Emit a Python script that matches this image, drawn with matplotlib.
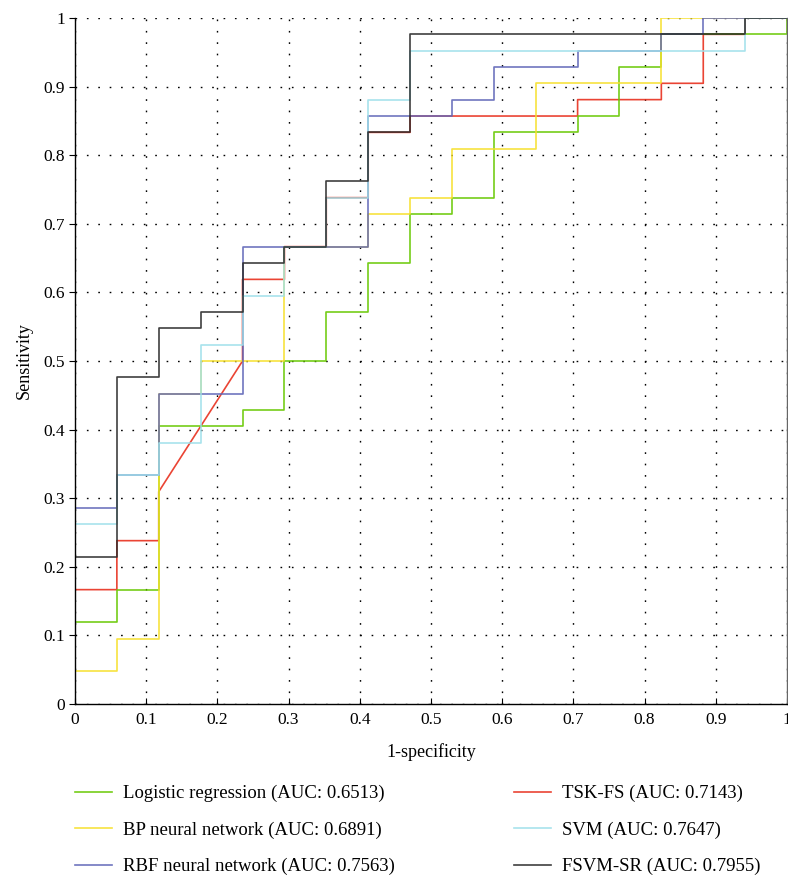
import numpy as np
import matplotlib
matplotlib.use('Agg')
import matplotlib.pyplot as plt

plt.rcParams['font.family'] = ['Liberation Serif', 'DejaVu Serif']

# ROC vertices (fpr, tpr)
lr_fpr = [0, 0, 0.0588, 0.0588, 0.1176, 0.1176, 0.2353, 0.2353, 0.2941, 0.2941, 0.3529, 0.3529, 0.4118, 0.4118,
          0.4706, 0.4706, 0.5294, 0.5294, 0.5882, 0.5882, 0.7059, 0.7059, 0.7647, 0.7647, 0.8235, 0.8235, 1, 1]
lr_tpr = [0, 0.119, 0.119, 0.1667, 0.1667, 0.4048, 0.4048, 0.4286, 0.4286, 0.5, 0.5, 0.5714, 0.5714, 0.6429,
          0.6429, 0.7143, 0.7143, 0.7381, 0.7381, 0.8333, 0.8333, 0.8571, 0.8571, 0.9286, 0.9286, 0.9762, 0.9762, 1]

bp_fpr = [0, 0, 0.0588, 0.0588, 0.1176, 0.1176, 0.1765, 0.1765, 0.2941, 0.2941, 0.4118, 0.4118, 0.4706, 0.4706,
          0.5294, 0.5294, 0.6471, 0.6471, 0.8235, 0.8235, 1]
bp_tpr = [0, 0.0476, 0.0476, 0.0952, 0.0952, 0.4524, 0.4524, 0.5, 0.5, 0.6667, 0.6667, 0.7143, 0.7143, 0.7381,
          0.7381, 0.8095, 0.8095, 0.9048, 0.9048, 1, 1]

rbf_fpr = [0, 0, 0.0588, 0.0588, 0.1176, 0.1176, 0.2353, 0.2353, 0.4118, 0.4118, 0.5294, 0.5294, 0.5882, 0.5882,
           0.7059, 0.7059, 0.8235, 0.8235, 0.8824, 0.8824, 1]
rbf_tpr = [0, 0.2857, 0.2857, 0.3333, 0.3333, 0.4524, 0.4524, 0.6667, 0.6667, 0.8571, 0.8571, 0.881, 0.881, 0.9286,
           0.9286, 0.9524, 0.9524, 0.9762, 0.9762, 1, 1]

tsk_fpr = [0, 0, 0.0588, 0.0588, 0.1176, 0.1176, 0.2353, 0.2353, 0.2941, 0.2941, 0.3529, 0.3529, 0.4118, 0.4118,
           0.4706, 0.4706, 0.7059, 0.7059, 0.8235, 0.8235, 0.8824, 0.8824, 0.9412, 0.9412, 1]
tsk_tpr = [0, 0.1667, 0.1667, 0.2381, 0.2381, 0.3095, 0.5, 0.619, 0.619, 0.6667, 0.6667, 0.7381, 0.7381, 0.8333,
           0.8333, 0.8571, 0.8571, 0.881, 0.881, 0.9048, 0.9048, 0.9762, 0.9762, 1, 1]

svm_fpr = [0, 0, 0.0588, 0.0588, 0.1176, 0.1176, 0.1765, 0.1765, 0.2353, 0.2353, 0.2941, 0.2941, 0.3529, 0.3529,
           0.4118, 0.4118, 0.4706, 0.4706, 0.9412, 0.9412, 1]
svm_tpr = [0, 0.2619, 0.2619, 0.3333, 0.3333, 0.381, 0.381, 0.5238, 0.5238, 0.5952, 0.5952, 0.6667, 0.6667, 0.7381,
           0.7381, 0.881, 0.881, 0.9524, 0.9524, 1, 1]

fsvm_fpr = [0, 0, 0.0588, 0.0588, 0.1176, 0.1176, 0.1765, 0.1765, 0.2353, 0.2353, 0.2941, 0.2941, 0.3529, 0.3529,
            0.4118, 0.4118, 0.4706, 0.4706, 0.9412, 0.9412, 1]
fsvm_tpr = [0, 0.2143, 0.2143, 0.4762, 0.4762, 0.5476, 0.5476, 0.5714, 0.5714, 0.6429, 0.6429, 0.6667, 0.6667, 0.7619,
            0.7619, 0.8333, 0.8333, 0.9762, 0.9762, 1, 1]

labels = ['Logistic regression (AUC: 0.6513)', 'BP neural network (AUC: 0.6891)',
          'RBF neural network (AUC: 0.7563)', 'TSK-FS (AUC: 0.7143)',
          'SVM (AUC: 0.7647)', 'FSVM-SR (AUC: 0.7955)']
colors = ['#66c800', '#f7e02a', '#6066b8', '#e8301e', '#9fe0ea', '#2a2a2a']

fig = plt.figure(figsize=(7.88, 8.76), dpi=100)
ax = fig.add_axes([75 / 788, 1 - 704 / 876, 712 / 788, 686 / 876])

# draw order: red under everything, black on top
curves = {
    3: (tsk_fpr, tsk_tpr),
    0: (lr_fpr, lr_tpr),
    1: (bp_fpr, bp_tpr),
    2: (rbf_fpr, rbf_tpr),
    4: (svm_fpr, svm_tpr),
    5: (fsvm_fpr, fsvm_tpr),
}
handles = {}
for k, (fx, fy) in curves.items():
    h, = ax.plot(fx, fy, color=colors[k], lw=1.2, alpha=0.9, label=labels[k])
    handles[k] = h

ax.set_xlim(0, 1)
ax.set_ylim(0, 1)
ticks = np.arange(0, 1.01, 0.1)
ax.set_xticks(ticks)
ax.set_yticks(ticks)
ax.set_xticklabels(['%g' % round(t, 1) for t in ticks])
ax.set_yticklabels(['%g' % round(t, 1) for t in ticks])
ax.tick_params(axis='x', direction='in', length=4, labelsize=12.5, pad=6)
ax.tick_params(axis='y', direction='out', length=4, labelsize=12.5, pad=3)
ax.grid(True, color='black', linestyle=(0, (1.2, 7)), linewidth=1.0)
ax.spines['top'].set_visible(False)
for s in ['left', 'bottom', 'right']:
    ax.spines[s].set_linewidth(1.0)
ax.spines['right'].set_color('#666666')

ax.set_xlabel('1-specificity', fontsize=13, labelpad=11)
ax.set_ylabel('Sensitivity', fontsize=13, labelpad=8)

# two legend columns, placed separately
leg_kw = dict(loc='upper left', frameon=False, fontsize=13.5, borderpad=0, borderaxespad=0,
              handlelength=1.95, handletextpad=0.62, labelspacing=1.02)
fig.legend([handles[k] for k in [0, 1, 2]], [labels[k] for k in [0, 1, 2]],
           bbox_to_anchor=(75 / 788, 1 - 785 / 876), **leg_kw)
fig.legend([handles[k] for k in [3, 4, 5]], [labels[k] for k in [3, 4, 5]],
           bbox_to_anchor=(514 / 788, 1 - 785 / 876), **leg_kw)

fig.savefig('out.png', dpi=100)
